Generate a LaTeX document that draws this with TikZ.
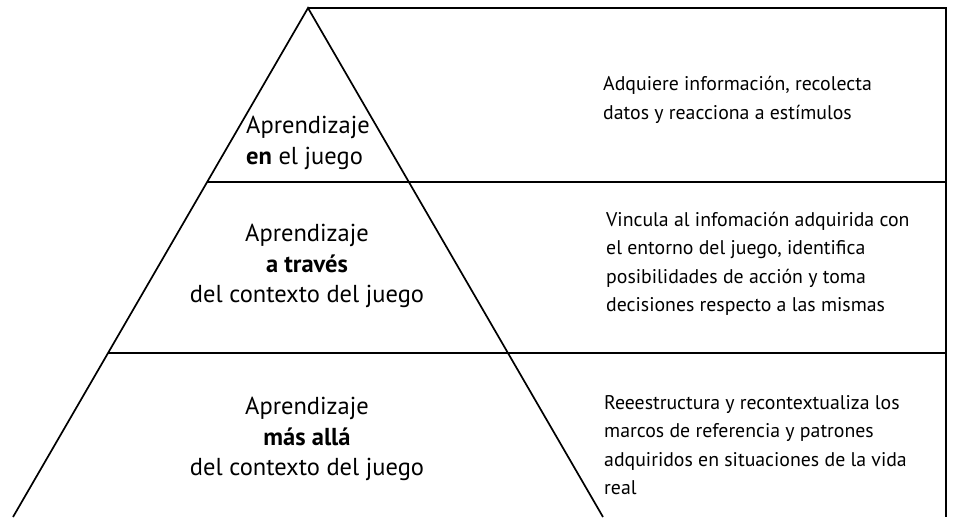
\documentclass[tikz,border=0pt]{standalone}
\usepackage{fontspec}
\setmainfont{PT Sans}
\begin{document}
\begin{tikzpicture}[x=1pt,y=-1pt,
  edge/.style={line width=1.7pt, black},
  bigtxt/.style={inner sep=0pt, font=\fontsize{24.5}{30.5}\selectfont},
  smalltxt/.style={inner sep=0pt, align=left, anchor=west, font=\fontsize{19.8}{28.5}\selectfont}]
\useasboundingbox (0,0) rectangle (957,517);
\coordinate (apex) at (308,8);
\coordinate (bl) at (13,517);
\coordinate (br) at (603,517);
\coordinate (tr) at (946,8);
\coordinate (brr) at (946,517);
\coordinate (l1) at (207,182);
\coordinate (r1) at (946,182);
\coordinate (l2) at (108,353);
\coordinate (r2) at (946,353);
\draw[edge] (bl) -- (apex) -- (br);
\draw[edge] (apex) -- (tr) -- (brr);
\draw[edge] (l1) -- (r1);
\draw[edge] (l2) -- (r2);
\node[bigtxt, align=left, anchor=west] (t1) at (246,143) {Aprendizaje\\\textbf{en} el juego};
\node[bigtxt, align=center] (t2) at (307,266) {Aprendizaje\\\textbf{a través}\\del contexto del juego};
\node[bigtxt, align=center] (t3) at (307,439) {Aprendizaje\\\textbf{más allá}\\del contexto del juego};
\node[smalltxt] (d1) at (603,100) {Adquiere información, recolecta\\datos y reacciona a estímulos};
\node[smalltxt] (d2) at (606,264) {Vincula al infomación adquirida con\\el entorno del juego, identifica\\posibilidades de acción y toma\\decisiones respecto a las mismas};
\node[smalltxt] (d3) at (604,445) {Reeestructura y recontextualiza los\\marcos de referencia y patrones\\adquiridos en situaciones de la vida\\real};
\end{tikzpicture}
\end{document}
